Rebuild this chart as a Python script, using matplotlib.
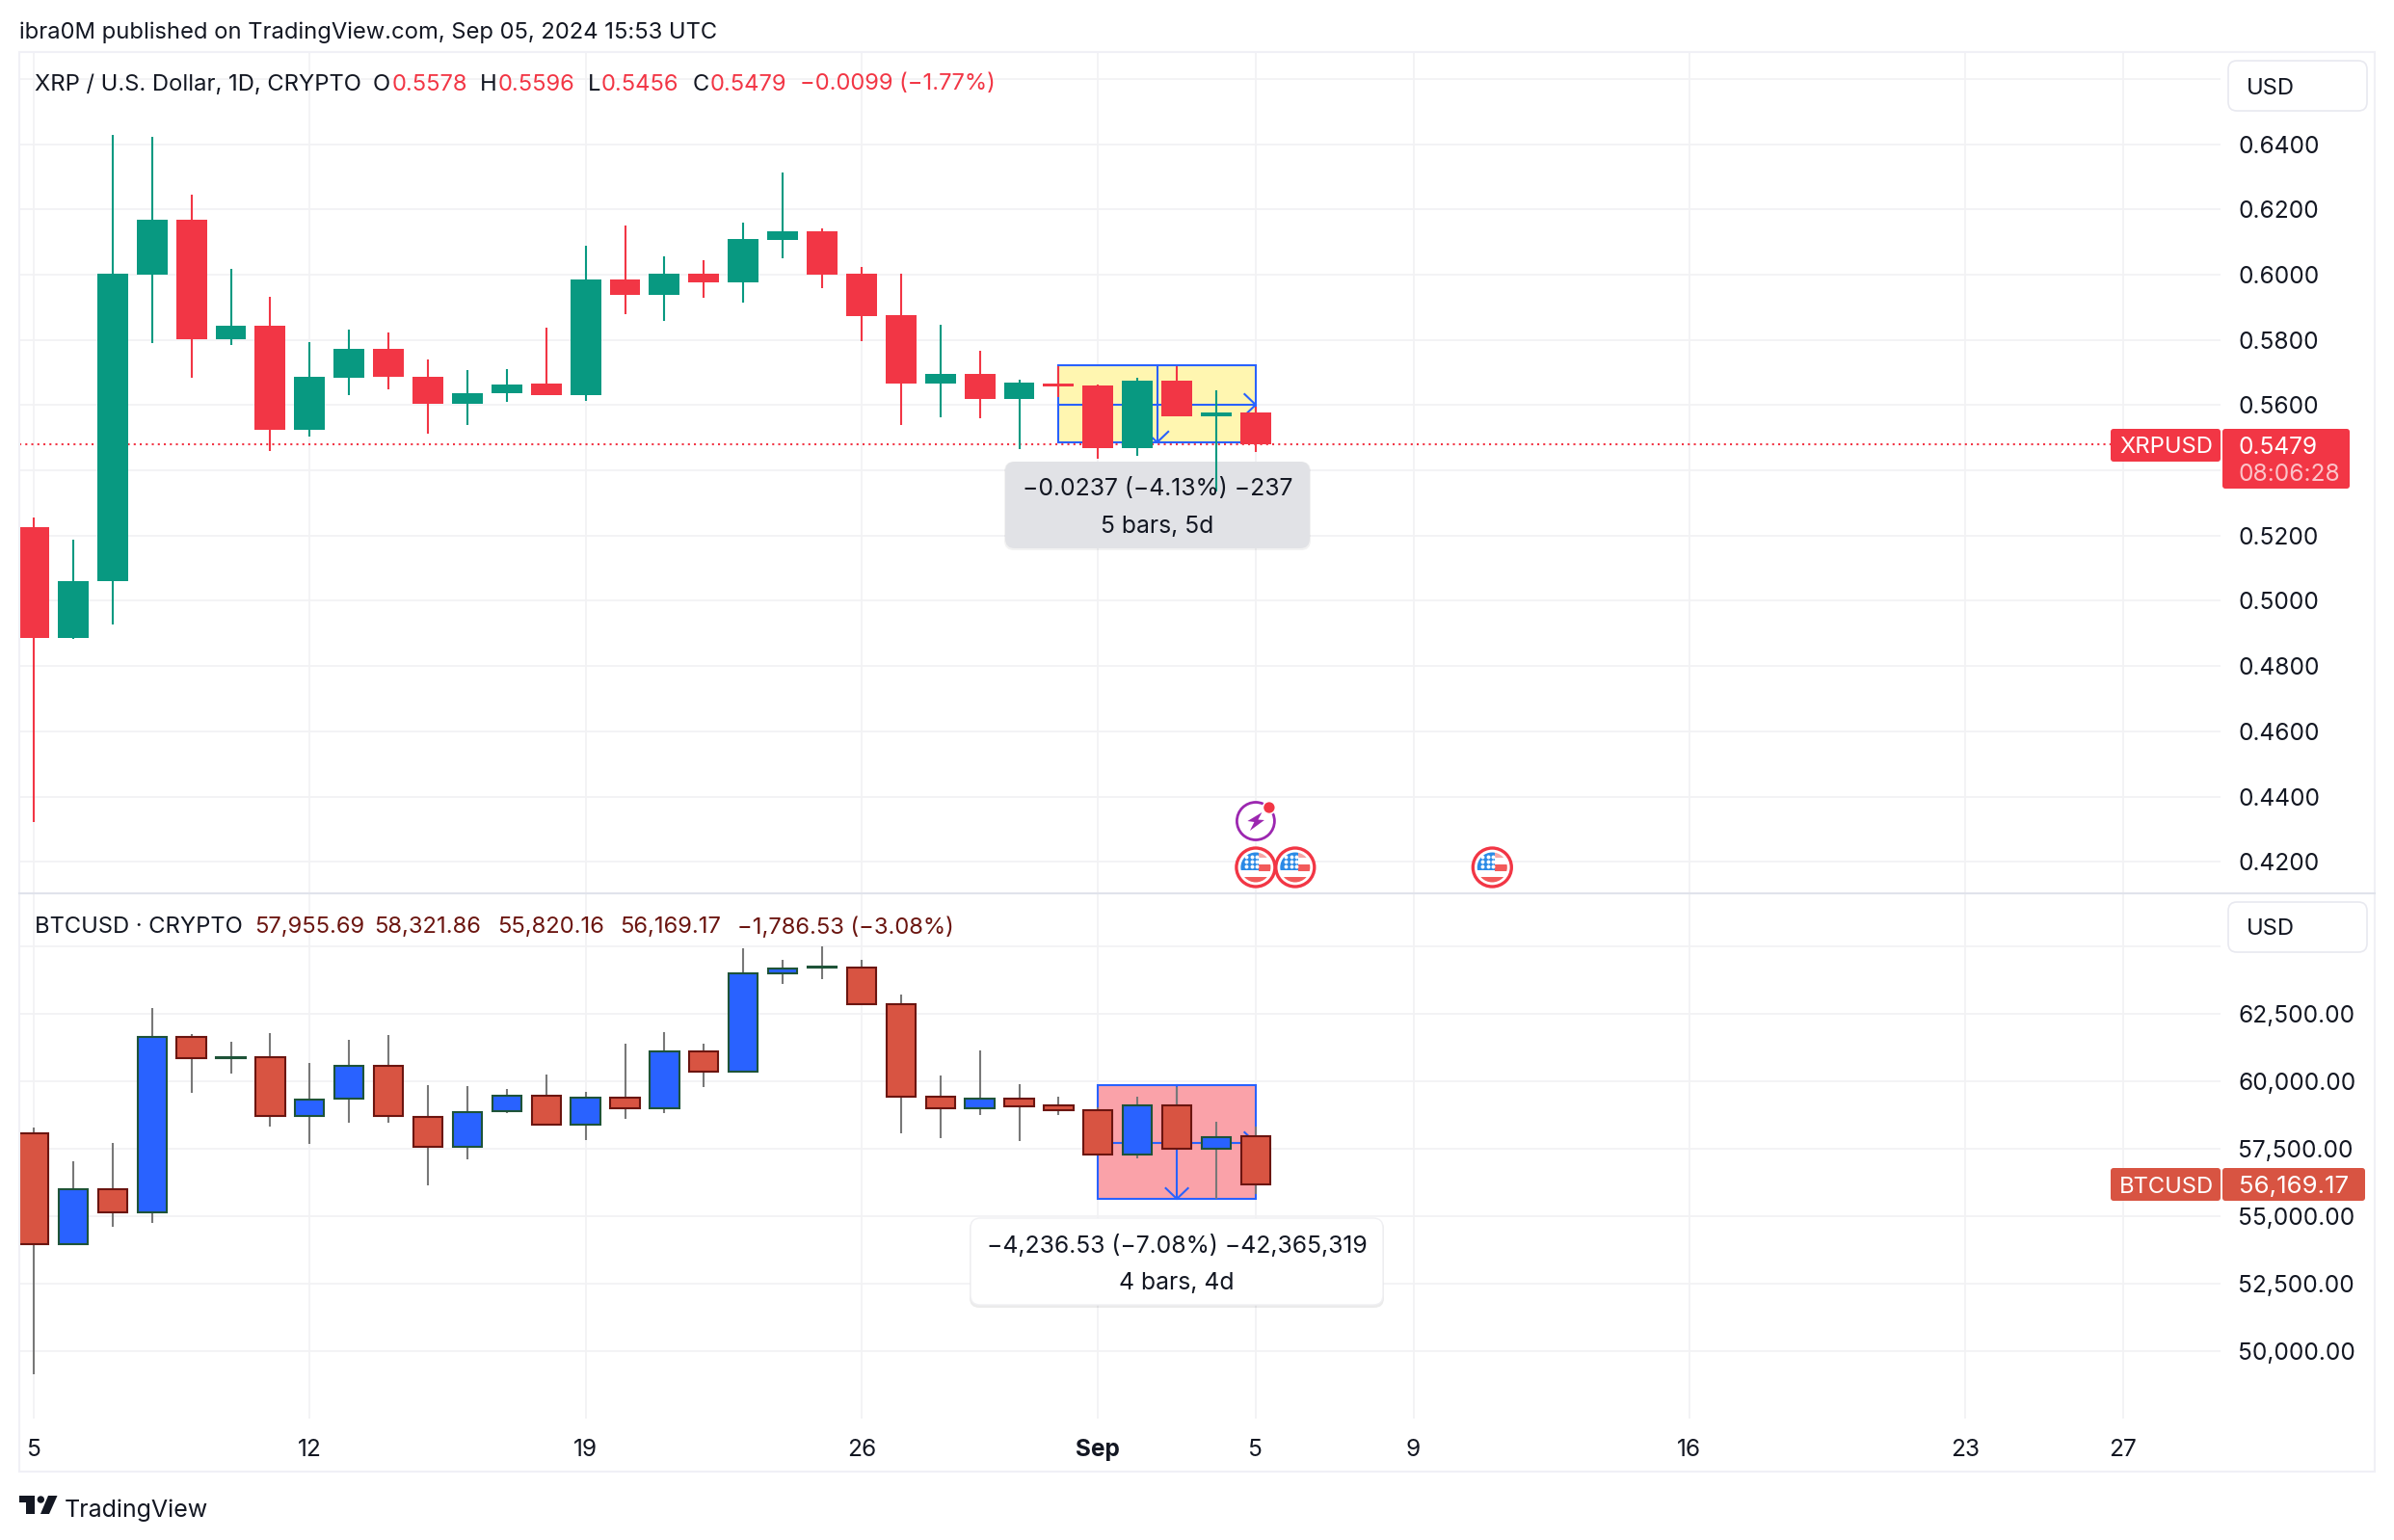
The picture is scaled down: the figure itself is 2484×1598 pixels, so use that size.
import matplotlib
matplotlib.use("Agg")
import numpy as np
import matplotlib.pyplot as plt
from matplotlib.patches import Circle, FancyBboxPatch, Polygon, Rectangle

plt.rcParams["font.family"] = ["Inter", "DejaVu Sans"]

W, H = 2484, 1598
DPI = 100

# bar index 0 is Aug 5, index 31 is Sep 5
xrp_open = [0.5227, 0.4885, 0.5059, 0.5999, 0.6167, 0.5803, 0.5842, 0.5525, 0.5683, 0.5772, 0.5688, 0.5605, 0.5636, 0.5665, 0.5630, 0.5984,
            0.5937, 0.6002, 0.5975, 0.6105, 0.6132, 0.6002, 0.5875, 0.5665, 0.5695, 0.5618, 0.5666, 0.5660, 0.5468, 0.5675, 0.5566, 0.5578]
xrp_high = [0.5255, 0.5186, 0.6427, 0.6421, 0.6244, 0.6019, 0.5933, 0.5792, 0.5833, 0.5824, 0.5741, 0.5706, 0.5709, 0.5836, 0.6088, 0.6150,
            0.6055, 0.6043, 0.6159, 0.6312, 0.6141, 0.6023, 0.6002, 0.5845, 0.5768, 0.5677, 0.5719, 0.5663, 0.5684, 0.5719, 0.5646, 0.5596]
xrp_low = [0.4323, 0.4883, 0.4927, 0.5789, 0.5683, 0.5783, 0.5458, 0.5505, 0.5630, 0.5647, 0.5511, 0.5538, 0.5611, 0.5630, 0.5612, 0.5878,
           0.5857, 0.5928, 0.5913, 0.6049, 0.5958, 0.5795, 0.5538, 0.5562, 0.5559, 0.5464, 0.5626, 0.5436, 0.5445, 0.5566, 0.5336, 0.5456]
xrp_close = [0.4885, 0.5061, 0.6002, 0.6167, 0.5803, 0.5842, 0.5525, 0.5686, 0.5772, 0.5686, 0.5605, 0.5638, 0.5664, 0.5630, 0.5984, 0.5937,
             0.6002, 0.5975, 0.6108, 0.6132, 0.5999, 0.5872, 0.5665, 0.5695, 0.5618, 0.5668, 0.5657, 0.5468, 0.5675, 0.5566, 0.5578, 0.5479]

btc_open = [58083, 53952, 56012, 55131, 61655, 60845, 60905, 58702, 59345, 60583, 58690, 57560, 58881, 59476, 58405, 59405,
            59012, 61119, 60369, 64012, 64230, 64226, 62845, 59417, 59012, 59345, 59095, 58940, 57274, 59119, 57488, 57955.69]
btc_high = [58286, 57036, 57714, 62714, 61750, 61464, 61786, 60679, 61536, 61714, 59857, 59821, 59714, 60250, 59607, 61393,
            61821, 61393, 64929, 64500, 65000, 64500, 63214, 60214, 61143, 59893, 59429, 59048, 59429, 59798, 58500, 58321.86]
btc_low = [49143, 53952, 54607, 54750, 59571, 60286, 58321, 57679, 58464, 58464, 56143, 57107, 58821, 58405, 57821, 58607,
           58821, 59786, 60369, 63607, 63786, 62845, 58071, 57893, 58750, 57786, 58750, 57250, 57143, 57488, 55643, 55820.16]
btc_close = [53952, 56012, 55131, 61655, 60845, 60900, 58702, 59333, 60583, 58702, 57560, 58869, 59476, 58405, 59405, 59012,
             61119, 60369, 64012, 64167, 64260, 62845, 59417, 59012, 59345, 59083, 58940, 57274, 59119, 57488, 57940, 56169.17]

time_ticks = [0, 7, 14, 21, 27, 31, 35, 42, 49, 53]
time_labels = ["5", "12", "19", "26", "Sep", "5", "9", "16", "23", "27"]

xrp_ticks = [0.42, 0.44, 0.46, 0.48, 0.50, 0.52, 0.54, 0.56, 0.58, 0.60, 0.62, 0.64, 0.66]
xrp_tick_labels = ["0.4200", "0.4400", "0.4600", "0.4800", "0.5000", "0.5200", "", "0.5600", "0.5800", "0.6000", "0.6200", "0.6400", ""]
btc_ticks = [50000, 52500, 55000, 57500, 60000, 62500, 65000]
btc_tick_labels = ["50,000.00", "52,500.00", "55,000.00", "57,500.00", "60,000.00", "62,500.00", ""]

xrp_last = 0.5479
# price range tools: start bar, end bar, top, bottom, middle price, middle bar
xrp_range = (26, 31, 0.5722, 0.5486, 0.5601, 28.5)
btc_range = (27, 31, 59869, 55643, 57714, 29)

event_flags = [31, 32, 37]
event_bolt = 31

RED = "#f23645"
GREEN = "#089981"
BLUE = "#2962ff"
TEXT = "#131722"
GRID = "#f2f2f4"
BORDER = "#f0f0f6"
BTC_RED = "#d85442"
BTC_RED_EDGE = "#6b1510"
BTC_BLUE_EDGE = "#1e5338"
BTC_WICK = "#787878"
FS = 17.1
FS_AXIS = 17.6
FS_MEASURE = 17.8

X0, STEP = 35.0, 40.9
L, R = 20, 2304
TOP1, BOT1, BOT2 = 54, 927, 1472
XRP_PX = 3384.6   # pixels per 1.0 of price
BTC_PX = 70 / 2500


def bar_px(i):
    return X0 + STEP * i


def make_pane(top, bottom, ylim, ticks, labels):
    ax = fig.add_axes([L / W, 1 - bottom / H, (R - L) / W, (bottom - top) / H])
    ax.set_xlim((L - X0) / STEP, (R - X0) / STEP)
    ax.set_ylim(*ylim)
    ax.set_xticks(time_ticks)
    ax.set_yticks(ticks)
    ax.set_yticklabels(labels, va="center_baseline")
    ax.yaxis.tick_right()
    ax.tick_params(axis="both", length=0, labelsize=FS_AXIS, labelcolor=TEXT)
    ax.tick_params(axis="y", pad=13)
    ax.tick_params(axis="x", pad=15)
    ax.grid(True, color=GRID, linewidth=1.3)
    ax.set_axisbelow(True)
    for s in ax.spines.values():
        s.set_visible(False)
    return ax


def draw_candles(ax, o, h, l, c, up, down, wick_up, wick_down, edge_up=None, edge_down=None):
    x = np.arange(len(o))
    o, h, l, c = map(np.asarray, (o, h, l, c))
    rising = c >= o
    ax.vlines(x[rising], l[rising], h[rising], color=wick_up, linewidth=1.5, zorder=3)
    ax.vlines(x[~rising], l[~rising], h[~rising], color=wick_down, linewidth=1.5, zorder=3)
    width = 0.78 if edge_up is None else 0.74
    lw = 0 if edge_up is None else 1.5
    ax.bar(x[rising], (c - o)[rising], bottom=o[rising], width=width, color=up, edgecolor=edge_up, linewidth=lw, zorder=4)
    ax.bar(x[~rising], (c - o)[~rising], bottom=o[~rising], width=width, color=down, edgecolor=edge_down, linewidth=lw, zorder=4)


def draw_range(ax, rng, fill, px_per_unit):
    x1, x2, top, bottom, mid, xmid = rng
    ax.add_patch(Rectangle((x1, bottom), x2 - x1, top - bottom, facecolor=fill, edgecolor=BLUE, linewidth=1.5, zorder=2))
    ax.plot([x1, x2], [mid, mid], color=BLUE, linewidth=1.5, zorder=2)
    ax.plot([xmid, xmid], [top, bottom], color=BLUE, linewidth=1.5, zorder=2)
    dx, dy = 11.5 / STEP, 11 / px_per_unit
    ax.plot([x2 - dx, x2, x2 - dx], [mid + dy, mid, mid - dy], color=BLUE, linewidth=1.5, zorder=2)
    ax.plot([xmid - dx, xmid, xmid + dx], [bottom + dy, bottom, bottom + dy], color=BLUE, linewidth=1.5, zorder=2)


def rounded_box(x1, y1, x2, y2, color, ax=None, r=8, **kw):
    p = FancyBboxPatch((x1 + r, y1 + r), x2 - x1 - 2 * r, y2 - y1 - 2 * r, boxstyle=f"round,pad={r},rounding_size={r}",
                       facecolor=color, edgecolor=kw.pop("edgecolor", "none"), transform=over.transData, clip_on=False, **kw)
    (ax or over).add_patch(p)
    return p


def label(x, y, s, color=TEXT, ha="left", fontsize=FS):
    over.text(x, y, s, ha=ha, va="center_baseline", fontsize=fontsize, color=color)


def flag_icon(cx, cy):
    over.add_patch(Circle((cx, cy), 20, facecolor="white", edgecolor=RED, linewidth=2.4))
    clip = Circle((cx, cy), 15.5, transform=over.transData)
    parts = [
        Rectangle((cx + 3, cy - 16), 14, 6, facecolor="#f7a6a6"),
        Rectangle((cx + 3, cy - 3), 14, 7, facecolor="#f25a5a"),
        Rectangle((cx - 16, cy + 10), 32, 6, facecolor="#f25a5a"),
        Rectangle((cx - 16, cy - 16), 19, 19, facecolor="#2b8ae6"),
    ]
    for p in parts:
        over.add_patch(p)
        p.set_clip_path(clip)
    sx = [cx + d for d in (-10, -4, 1)] * 3
    sy = [cy + d for d in (-11, -11, -11, -6, -6, -6, -1, -1, -1)]
    over.scatter(sx, sy, s=8, color="white", linewidths=0, zorder=5)


def bolt_icon(cx, cy):
    over.add_patch(Circle((cx, cy), 19.5, facecolor="white", edgecolor="#9c27b0", linewidth=2))
    pts = [(6.5, -9), (-8.5, 0), (-1.5, 1), (-6, 10), (9, -1), (2.5, -1.5)]
    over.add_patch(Polygon([(cx + a, cy + b) for a, b in pts], closed=True, facecolor="#9c27b0", edgecolor="none"))
    over.add_patch(Circle((cx + 14, cy - 14), 6.5, facecolor=RED, edgecolor="white", linewidth=1.2))


fig = plt.figure(figsize=(W / DPI, H / DPI), dpi=DPI, facecolor="white")

ax1 = make_pane(TOP1, BOT1, (0.64 - (BOT1 - 149.6) / XRP_PX, 0.64 + (149.6 - TOP1) / XRP_PX), xrp_ticks, xrp_tick_labels)
ax2 = make_pane(BOT1, BOT2, (60000 - (BOT2 - 1122) / BTC_PX, 60000 + (1122 - BOT1) / BTC_PX), btc_ticks, btc_tick_labels)
ax1.tick_params(axis="x", labelbottom=False)
ax2.set_xticklabels(time_labels)
ax2.get_xticklabels()[4].set_fontweight("bold")

over = fig.add_axes([0, 0, 1, 1], zorder=10)
over.set_xlim(0, W)
over.set_ylim(H, 0)
over.axis("off")
over.patch.set_alpha(0)

# XRP pane
draw_range(ax1, xrp_range, "#fff6b0", XRP_PX)
ax1.axhline(xrp_last, color=RED, linewidth=1.5, linestyle=(0, (1, 2)), zorder=1.5)
draw_candles(ax1, xrp_open, xrp_high, xrp_low, xrp_close, GREEN, RED, GREEN, RED)

# BTC pane
draw_range(ax2, btc_range, "#faa2a9", BTC_PX)
draw_candles(ax2, btc_open, btc_high, btc_low, btc_close, BLUE, BTC_RED, BTC_WICK, BTC_WICK, BTC_BLUE_EDGE, BTC_RED_EDGE)

# measure labels sit in the panes so wicks can cross them
rounded_box(1042, 479, 1360, 571, "#000000", ax=ax1, r=10, zorder=0.9, alpha=0.05)
rounded_box(1043, 479, 1359, 569, "#e1e2e6", ax=ax1, r=10, zorder=1, alpha=0.97)
rounded_box(1006, 1265, 1436, 1357, "#000000", ax=ax2, r=10, zorder=5, alpha=0.08)
rounded_box(1007, 1264, 1435, 1354, "#ffffff", ax=ax2, r=10, zorder=5.1, edgecolor="#f0f0f3", linewidth=1)
label(1201, 505, "\u22120.0237 (\u22124.13%) \u2212237", ha="center", fontsize=FS_MEASURE)
label(1201, 544, "5 bars, 5d", ha="center", fontsize=FS_MEASURE)
label(1221, 1290, "\u22124,236.53 (\u22127.08%) \u221242,365,319", ha="center", fontsize=FS_MEASURE)
label(1221, 1329, "4 bars, 4d", ha="center", fontsize=FS_MEASURE)

# frame
over.add_patch(Rectangle((L, TOP1), 2464 - L, 1527 - TOP1, facecolor="none", edgecolor=BORDER, linewidth=1.5))
over.plot([L, 2464], [BOT1, BOT1], color="#e0e3eb", linewidth=1.5)

# header and legends
label(20, 31, "ibra0M published on TradingView.com, Sep 05, 2024 15:53 UTC")
label(36, 85, "XRP / U.S. Dollar, 1D, CRYPTO")
for x, s, col in [(387, "O", TEXT), (407, "0.5578", RED), (498, "H", TEXT), (517, "0.5596", RED), (610, "L", TEXT), (624, "0.5456", RED),
                  (719, "C", TEXT), (737, "0.5479", RED), (830, "\u22120.0099 (\u22121.77%)", RED)]:
    label(x, 85, s, col)
label(36, 960, "BTCUSD \u00b7 CRYPTO")
for x, s in [(264, "57,955.69"), (388, "58,321.86"), (516, "55,820.16"), (643, "56,169.17"), (765, "\u22121,786.53 (\u22123.08%)")]:
    label(x, 960, s, BTC_RED_EDGE)

# USD buttons
for y1 in (63, 936):
    rounded_box(2312, y1, 2456, y1 + 52, "white", r=9, edgecolor="#e8e9f0", linewidth=1.2)
    label(2331, y1 + 26, "USD")

# last price tags
rounded_box(2190, 445, 2304, 479, RED, r=3)
rounded_box(2306, 445, 2438, 507, RED, r=3)
label(2199, 462, "XRPUSD", "white")
label(2323, 462, "0.5479", "white", fontsize=FS_AXIS)
label(2323, 490, "08:06:28", "#fbc3c9", fontsize=FS_AXIS)
rounded_box(2190, 1212, 2304, 1246, BTC_RED, r=3)
rounded_box(2306, 1212, 2454, 1246, BTC_RED, r=3)
label(2199, 1229, "BTCUSD", "white")
label(2323, 1229, "56,169.17", "white", fontsize=18.6)

# event icons
for i in event_flags:
    flag_icon(bar_px(i), 900)
bolt_icon(bar_px(event_bolt), 852)

# TradingView mark
over.add_patch(Polygon([(20, 1552), (36, 1552), (36, 1571), (27, 1571), (27, 1559), (20, 1559)], closed=True, facecolor=TEXT, edgecolor="none"))
over.add_patch(Circle((42.3, 1556), 3.7, facecolor=TEXT, edgecolor="none"))
over.add_patch(Polygon([(50, 1552), (59.5, 1552), (51, 1571), (42, 1571)], closed=True, facecolor=TEXT, edgecolor="none"))
label(67, 1565, "TradingView", fontsize=18)

fig.savefig("out.png", dpi=DPI, facecolor="white")
